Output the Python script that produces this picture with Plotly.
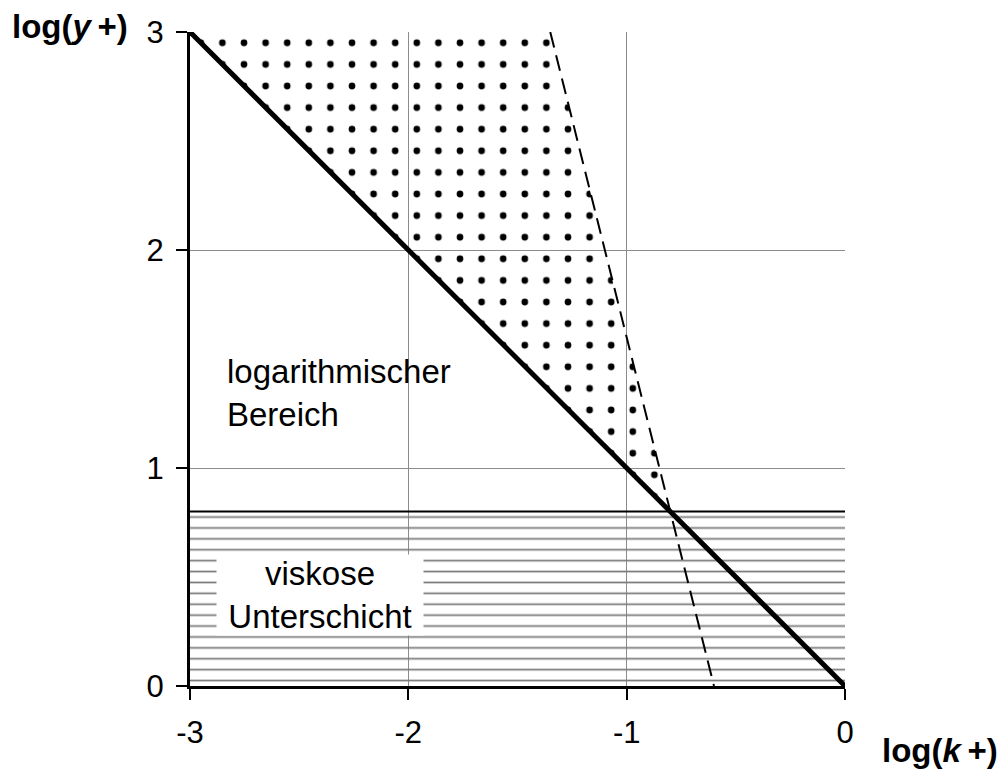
import plotly.graph_objects as go

# Bounds of the diagram (log k+ horizontally, log y+ vertically)
x_range = [-3, 0]
y_range = [0, 3]
x_ticks = [-3, -2, -1, 0]
y_ticks = [0, 1, 2, 3]

# Solid boundary line: log(y+) = -log(k+)
boundary_k = [-3, 0]
boundary_y = [3, 0]

# Dashed limit line
dashed_k = [-1.35, -0.6]
dashed_y = [3, 0]

# Upper edge of the viscous sublayer
sublayer_top = 0.8

# Dotted wedge between the solid and dashed lines
wedge_k = [-3, -0.8, -1.35, -3]
wedge_y = [3, 0.8, 3, 3]

FONT = "Liberation Sans, Arial, sans-serif"

fig = go.Figure()

# Hatched viscous sublayer band
fig.add_trace(go.Scatter(
    x=[x_range[0], x_range[1], x_range[1], x_range[0], x_range[0]],
    y=[0, 0, sublayer_top, sublayer_top, 0],
    mode="lines", line=dict(width=0), fill="toself",
    fillcolor="rgba(0,0,0,0)",
    fillpattern=dict(shape="-", fgcolor="#7a7a7a", fgopacity=1,
                     bgcolor="rgba(0,0,0,0)", size=10.9, solidity=0.16),
    hoverinfo="skip", showlegend=False,
))

# Dotted wedge
fig.add_trace(go.Scatter(
    x=wedge_k, y=wedge_y,
    mode="lines", line=dict(width=0), fill="toself",
    fillcolor="rgba(0,0,0,0)",
    fillpattern=dict(shape=".", fgcolor="black", fgopacity=1,
                     bgcolor="rgba(0,0,0,0)", size=21.6, solidity=0.075),
    hoverinfo="skip", showlegend=False,
))

# Sublayer top line
fig.add_trace(go.Scatter(
    x=x_range, y=[sublayer_top, sublayer_top],
    mode="lines", line=dict(color="black", width=2),
    hoverinfo="skip", showlegend=False,
))

# Dashed limit line
fig.add_trace(go.Scatter(
    x=dashed_k, y=dashed_y,
    mode="lines", line=dict(color="black", width=2, dash="16px,8px"),
    hoverinfo="skip", showlegend=False,
))

# Thick boundary line
fig.add_trace(go.Scatter(
    x=boundary_k, y=boundary_y,
    mode="lines", line=dict(color="black", width=5),
    hoverinfo="skip", showlegend=False,
))

axis_common = dict(
    showgrid=True, gridcolor="#8c8c8c", gridwidth=1,
    zeroline=False,
    showline=True, linecolor="black", linewidth=3,
    ticks="outside", ticklen=11, tickwidth=2, tickcolor="black",
    tickfont=dict(family=FONT, size=31, color="black"),
    fixedrange=True,
)

fig.update_xaxes(range=x_range, tickvals=x_ticks, ticktext=[str(v) for v in x_ticks],
                 ticklabelstandoff=6, **axis_common)
fig.update_yaxes(range=y_range, tickvals=y_ticks, ticktext=[str(v) for v in y_ticks],
                 ticklabelstandoff=6, **axis_common)

annotations = [
    # Region labels
    dict(x=-2.405, y=0.417, xref="x", yref="y",
         text="viskose<br>Unterschicht", showarrow=False,
         font=dict(family=FONT, size=33, color="black"),
         bgcolor="white", width=206, height=80, borderpad=0, align="center"),
    dict(x=-2.84, y=1.344, xref="x", yref="y", xanchor="left", yanchor="middle",
         text="logarithmischer<br>Bereich", showarrow=False, align="left",
         font=dict(family=FONT, size=33, color="black")),
    # Axis titles
    dict(x=(10 - 190) / 655, y=(686 - 26) / 654, xref="paper", yref="paper",
         xanchor="left", yanchor="middle", showarrow=False,
         text="<b>log(<i>y</i>\u2009+)</b>",
         font=dict(family=FONT, size=33, color="black")),
    dict(x=(880 - 190) / 655, y=(686 - 750) / 654, xref="paper", yref="paper",
         xanchor="left", yanchor="middle", showarrow=False,
         text="<b>log(<i>k</i>\u2009+)</b>",
         font=dict(family=FONT, size=33, color="black")),
]

fig.update_layout(
    width=1001, height=769, autosize=False,
    margin=dict(l=190, r=156, t=32, b=83),
    paper_bgcolor="white", plot_bgcolor="white",
    annotations=annotations,
    showlegend=False,
)

fig.write_html("out.html", config={"displayModeBar": False})
